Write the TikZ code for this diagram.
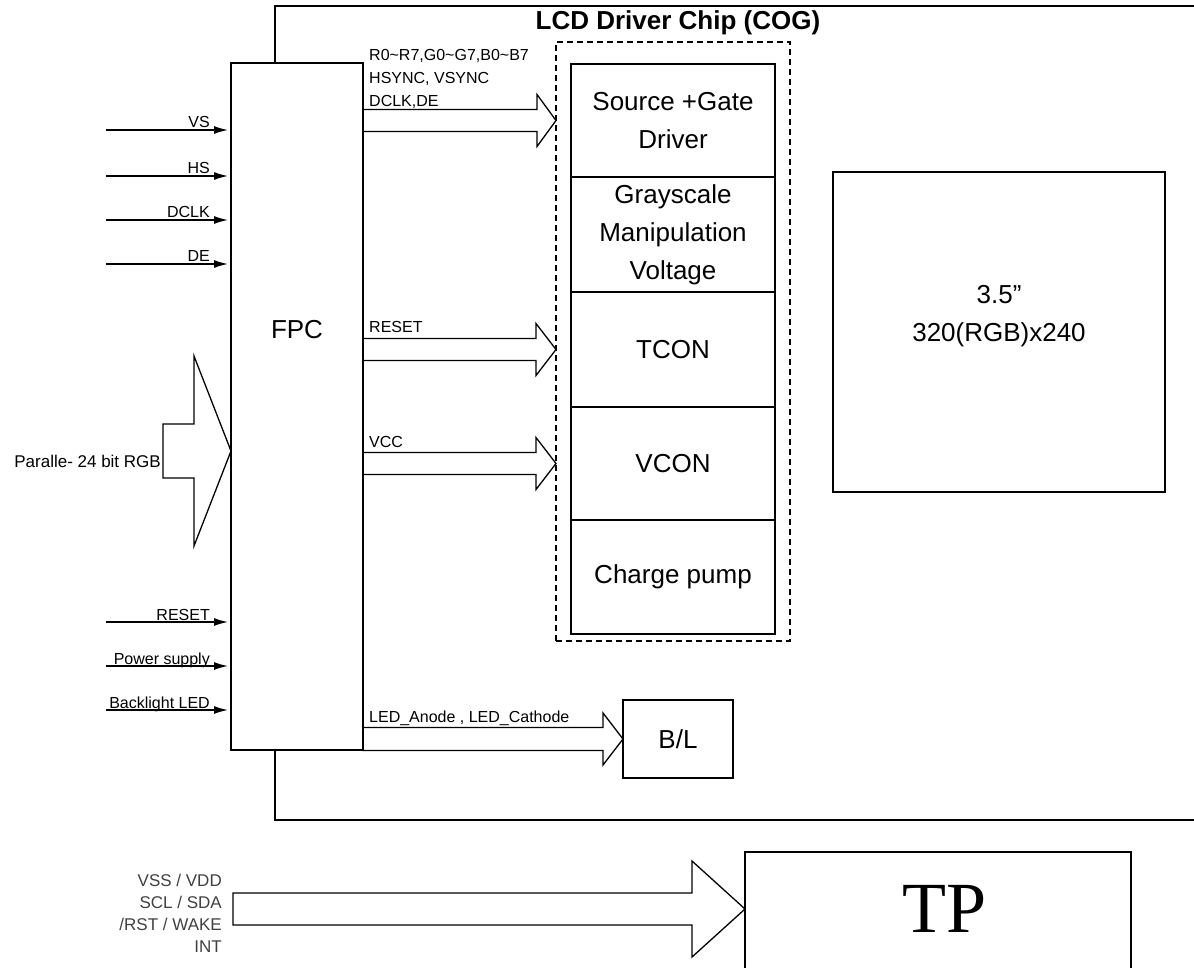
\documentclass[tikz,border=0pt]{standalone}
\usepackage{fontspec}
\setmainfont{Liberation Sans}
\newfontfamily\tpfont{Liberation Serif}
\usepackage{tikz}
\usetikzlibrary{arrows.meta,calc,positioning}

\newcommand{\hollowarrow}[5]{
	\draw[fat] ($(#1)+(0,-#3)$) -- ($(#2)+(-#5,-#3)$) -- ($(#2)+(-#5,-#4)$) -- (#2)
		-- ($(#2)+(-#5,#4)$) -- ($(#2)+(-#5,#3)$) -- ($(#1)+(0,#3)$) -- cycle;
}

\begin{document}
\begin{tikzpicture}[x=1pt, y=-1pt,
	box/.style={draw, line width=1.3pt, inner sep=0pt, outer sep=0pt, anchor=north west},
	main/.style={font=\fontsize{26}{38}\selectfont, align=center},
	sig/.style={font=\fontsize{16}{23}\selectfont, inner sep=0pt},
	fat/.style={line width=1.3pt},
	pin/.style={line width=1.4pt, -{Latex[length=14pt,width=8pt]}, shorten >=3pt}]

	\useasboundingbox (0,0) rectangle (1194,968);
	\clip (0,0) rectangle (1194,968);

	\node[box, minimum width=950pt, minimum height=814pt] (chip) at (275,6) {};
	\node[font=\bfseries\fontsize{26}{30}\selectfont] (title) at (678,23) {LCD Driver Chip (COG)};

	\node[box, dash pattern=on 6pt off 4pt, line width=1.1pt, minimum width=234pt, minimum height=599pt] (cog) at (556,42) {};

	\node[box, main, line width=1.6pt, minimum width=204pt, minimum height=113pt] (src) at (571,64) {Source +Gate\\Driver};
	\node[box, main, line width=1.6pt, minimum width=204pt, minimum height=115pt, below=0pt of src] (gray) {Grayscale\\Manipulation\\Voltage};
	\node[box, main, line width=1.6pt, minimum width=204pt, minimum height=115pt, below=0pt of gray] (tcon) {TCON};
	\node[box, main, line width=1.6pt, minimum width=204pt, minimum height=113pt, below=0pt of tcon] (vcon) {VCON};
	\node[box, main, line width=1.6pt, minimum width=204pt, minimum height=114pt, below=0pt of vcon] (pump) {Charge pump};

	\node[box, fill=white, minimum width=132pt, minimum height=687pt] (fpc) at (231,63) {};
	\node[main] (fpclbl) at (297,330) {FPC};

	\node[box, minimum width=332pt, minimum height=320pt] (lcd) at (833,172) {};
	\node[main] (lcdlbl) at (999,316) {3.5"\\320(RGB)x240};

	\node[box, main, minimum width=110pt, minimum height=78pt] (bl) at (623,700) {B/L};

	\node[box, minimum width=386pt, minimum height=160pt] (tp) at (745,852) {};
	\node[font=\tpfont\fontsize{72}{72}\selectfont] (tplbl) at (945,909) {TP};

	\coordinate (rgbtail) at (163,451);
	\coordinate (rgbtip) at (fpc.west |- rgbtail);
	\hollowarrow{rgbtail}{rgbtip}{27}{95}{37}
	\node[sig, font=\fontsize{17}{23}\selectfont, anchor=base east] (rgblbl) at (161,467) {Paralle- 24 bit RGB};

	\coordinate (data0) at (fpc.east |- src.west);
	\coordinate (data1) at (cog.west |- src.west);
	\hollowarrow{data0}{data1}{11}{26}{19}
	\node[sig, anchor=south west, align=left] (datalbl) at (369,109) {R0\textasciitilde R7,G0\textasciitilde G7,B0\textasciitilde B7\\HSYNC, VSYNC\\DCLK,DE};

	\coordinate (rst0) at (fpc.east |- tcon.west);
	\coordinate (rst1) at (cog.west |- tcon.west);
	\hollowarrow{rst0}{rst1}{11}{26}{20}
	\node[sig, anchor=base west] (rstlbl) at (369,333) {RESET};

	\coordinate (vcc0) at (fpc.east |- vcon.west);
	\coordinate (vcc1) at (cog.west |- vcon.west);
	\hollowarrow{vcc0}{vcc1}{11}{26}{20}
	\node[sig, anchor=base west] (vcclbl) at (369,447) {VCC};

	\coordinate (led0) at (fpc.east |- bl.west);
	\hollowarrow{led0}{bl.west}{11.5}{26}{20}
	\node[sig, anchor=base west] (ledlbl) at (369,722) {LED\_Anode , LED\_Cathode};

	\coordinate (tptail) at (233,909);
	\coordinate (tptip) at (tp.west |- tptail);
	\hollowarrow{tptail}{tptip}{16}{48}{53}
	\node[sig, font=\fontsize{17}{22}\selectfont, text=black!75, align=right, anchor=east] (tpsig) at (222,913) {VSS / VDD\\SCL / SDA\\/RST / WAKE\\INT};

	\foreach \y/\t [count=\i] in {130/VS, 176/HS, 220/DCLK, 264/DE, 622/RESET, 666/Power supply, 710/Backlight LED} {
		\coordinate (pin\i) at (106,\y);
		\draw[pin] (pin\i) -- (fpc.west |- pin\i);
		\node[sig, anchor=base east] (pinlbl\i) at (210,\y-2) {\t};
	}
\end{tikzpicture}
\end{document}
